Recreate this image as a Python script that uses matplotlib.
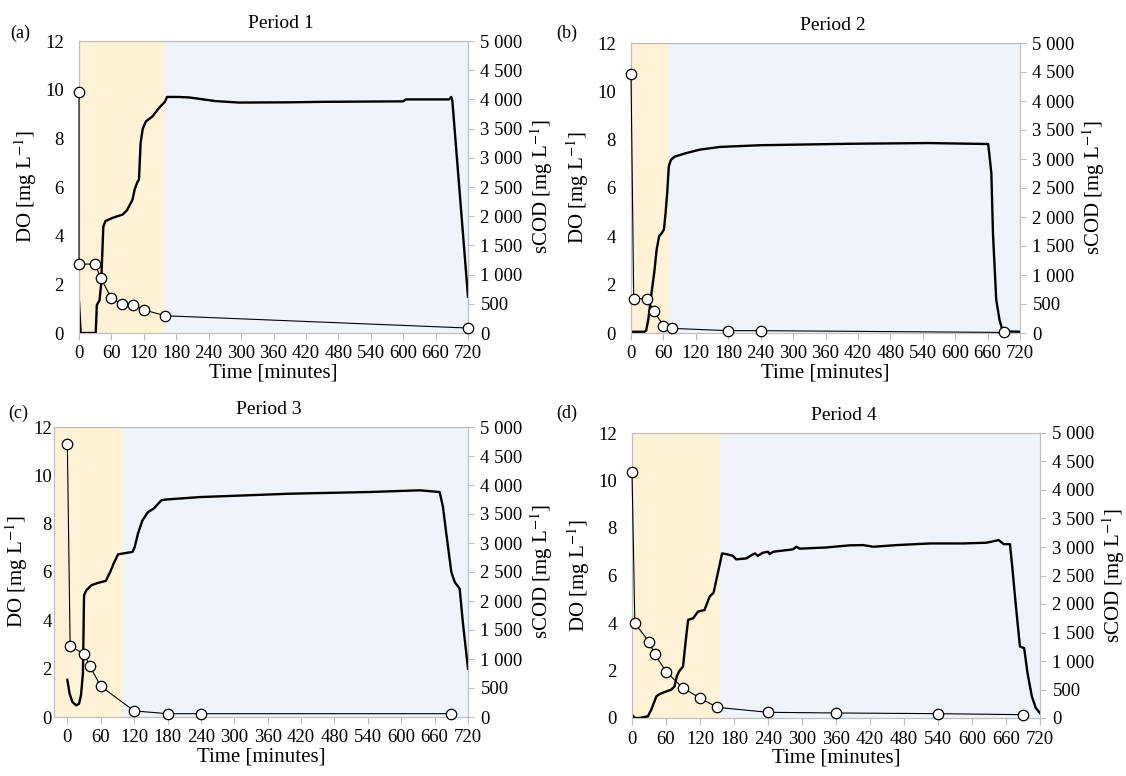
import matplotlib
matplotlib.use("Agg")
import matplotlib.pyplot as plt
from matplotlib.ticker import FuncFormatter, MultipleLocator

plt.rcParams['font.family'] = ['Liberation Serif', 'DejaVu Serif']
plt.rcParams['mathtext.fontset'] = 'stix'

# ---- data ----
# Period 1
do_t1 = [0, 3, 31, 33, 38, 41, 45, 49, 62, 81, 89, 99, 103, 108, 111, 114, 118, 124, 136, 148,
         159, 163, 185, 204, 253, 296, 390, 450, 600, 605, 685, 689, 691, 720]
do_v1 = [1.29, 0, 0, 1.15, 1.35, 2.0, 4.37, 4.6, 4.73, 4.87, 5.05, 5.48, 5.9, 6.2, 6.3, 7.8, 8.4, 8.7, 8.9, 9.25,
         9.5, 9.7, 9.7, 9.68, 9.53, 9.47, 9.48, 9.5, 9.52, 9.6, 9.6, 9.7, 9.55, 1.49]
cod_t1 = [0, 0, 30, 40, 60, 80, 100, 120, 160, 720]
cod_v1 = [4130, 1180, 1180, 945, 595, 495, 480, 395, 295, 85]

# Period 2
do_t2 = [0, 25, 28, 32, 38, 43, 47.5, 52, 57, 61, 64, 67, 70, 74, 81, 103, 128, 165, 239, 405, 550,
         661, 663, 667, 670, 676, 682, 688, 720]
do_v2 = [0.05, 0.05, 0.1, 0.55, 1.66, 2.5, 3.45, 4.0, 4.14, 4.28, 4.97, 5.8, 6.9, 7.17, 7.3, 7.45, 7.59, 7.7, 7.77, 7.83, 7.86,
         7.82, 7.45, 6.6, 4.1, 1.38, 0.55, 0.07, 0.05]
cod_t2 = [0, 5, 30, 42, 60, 76, 180, 240, 690]
cod_v2 = [4470, 590, 590, 385, 125, 80, 40, 40, 10]

# Period 3
do_t3 = [0, 4, 9, 16, 21, 24.5, 28, 30, 34, 43, 55, 69, 77, 83, 91, 106, 117, 121, 127, 135, 145, 155,
         169, 178, 238, 400, 543, 633, 669, 675, 681, 690, 696, 705, 711, 720]
do_v3 = [1.54, 0.97, 0.62, 0.48, 0.55, 0.9, 1.8, 5.03, 5.24, 5.45, 5.55, 5.63, 6.0, 6.34, 6.73, 6.79, 6.83, 7.03, 7.6, 8.14, 8.48, 8.62,
         8.97, 9.0, 9.1, 9.24, 9.31, 9.38, 9.31, 8.69, 7.59, 6.0, 5.59, 5.31, 3.86, 2.0]
cod_t3 = [0, 5, 30, 40, 60, 120, 180, 240, 690]
cod_v3 = [4700, 1220, 1090, 885, 530, 105, 57, 57, 57]

# Period 4
do_t4 = [0, 5, 13, 28, 34, 43, 49, 60.6, 69, 75, 79, 83, 90, 95, 99, 108, 116.5, 128, 137, 144, 152, 159,
         166.5, 178, 184, 202, 211, 217, 222, 231, 240, 243, 249, 284, 290, 296, 343, 384, 408, 426, 467,
         526, 585, 626, 647, 656, 667, 671, 677, 684.6, 692, 698, 705.6, 712.6, 720]
do_v4 = [0.14, 0, 0, 0.07, 0.35, 0.91, 1.01, 1.12, 1.19, 1.33, 1.75, 1.96, 2.17, 3.29, 4.13, 4.2, 4.48, 4.55, 5.11, 5.28, 6.16, 6.93,
         6.9, 6.83, 6.68, 6.72, 6.86, 6.93, 6.83, 6.96, 7.0, 6.9, 7.0, 7.1, 7.21, 7.13, 7.18, 7.27, 7.28, 7.21, 7.28,
         7.35, 7.35, 7.38, 7.49, 7.32, 7.32, 6.37, 4.83, 3.01, 2.94, 1.89, 0.91, 0.42, 0.21]
cod_t4 = [0, 5, 30, 40, 60, 90, 120, 150, 240, 360, 540, 690]
cod_v4 = [4320, 1660, 1340, 1120, 815, 525, 350, 187, 100, 88, 76, 58]

titles = ['Period 1', 'Period 2', 'Period 3', 'Period 4']
letters = ['(a)', '(b)', '(c)', '(d)']
aerobic_end = [160, 70, 100, 155]   # end of the yellow (feast) phase
x_left = [0, 0, -24, 0]

panels = [(do_t1, do_v1, cod_t1, cod_v1), (do_t2, do_v2, cod_t2, cod_v2),
          (do_t3, do_v3, cod_t3, cod_v3), (do_t4, do_v4, cod_t4, cod_v4)]

# axes boxes in pixels: left, right, top, bottom
boxes = [(79, 468, 41, 333), (631, 1020, 43, 333), (54, 468, 427, 717), (632, 1040, 433, 718)]
letter_pos = [(20, 33), (567, 33), (18, 413), (567, 413)]
ytick_pad = [11, 11, 1.5, 11]
ylab_pad = [4, 4, 2, 4]

W, H = 1126, 776
fig = plt.figure(figsize=(W / 100, H / 100), dpi=100)

grey = '#BFBFBF'
space_fmt = FuncFormatter(lambda v, p: '{:,.0f}'.format(v).replace(',', ' '))

for i, (dt, dv, ct, cv) in enumerate(panels):
    l, r, t, b = boxes[i]
    ax = fig.add_axes([l / W, 1 - b / H, (r - l) / W, (b - t) / H])
    ax2 = ax.twinx()

    ax.set_xlim(x_left[i], 720)
    ax.set_ylim(0, 12)
    ax2.set_ylim(0, 5000)

    ax.axvspan(x_left[i], aerobic_end[i], color='#FFF2D6', lw=0, zorder=0)
    ax.axvspan(aerobic_end[i], 720, color='#EFF4FB', lw=0, zorder=0)

    ax.plot(dt, dv, color='black', lw=1.7, zorder=3)
    ax2.plot(ct, cv, color='black', lw=0.8, marker='o', ms=7.5, mfc='white', mec='black', mew=0.9,
             zorder=4, clip_on=False)

    ax.xaxis.set_major_locator(MultipleLocator(60))
    ax.yaxis.set_major_locator(MultipleLocator(2))
    ax2.yaxis.set_major_locator(MultipleLocator(500))
    ax2.yaxis.set_major_formatter(space_fmt)

    for a in (ax, ax2):
        for s in a.spines.values():
            s.set_color(grey)
            s.set_linewidth(0.8)
    ax.tick_params(axis='x', direction='out', length=5, color=grey, labelsize=13.5, pad=4)
    ax.tick_params(axis='y', length=0, labelsize=13.5, pad=ytick_pad[i])
    ax2.tick_params(axis='y', direction='out', length=4, color=grey, labelsize=13.5, pad=5)

    ax.set_xlabel('Time [minutes]', fontsize=15, labelpad=1)
    ax.set_ylabel(r'DO [mg L$^{-1}$]', fontsize=15, labelpad=ylab_pad[i])
    ax2.set_ylabel(r'sCOD [mg L$^{-1}$]', fontsize=15, labelpad=4)
    ax.set_title(titles[i], fontsize=14, x=0.52, pad=9)

    lx, ly = letter_pos[i]
    fig.text(lx / W, 1 - ly / H, letters[i], fontsize=13, ha='center', va='center')

fig.savefig('out.png', dpi=100)
